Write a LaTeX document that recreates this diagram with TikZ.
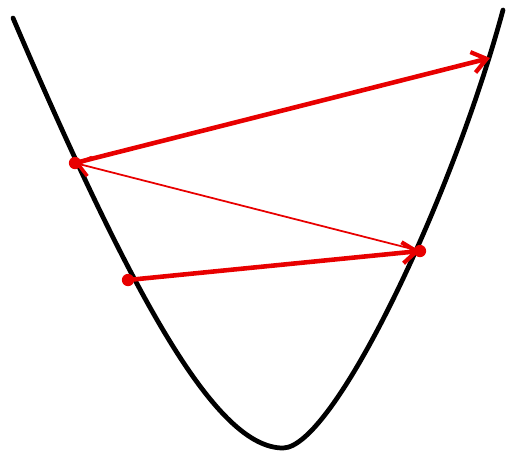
\documentclass[tikz,border=0pt]{standalone}
\usetikzlibrary{arrows.meta}
\definecolor{arrred}{RGB}{232,0,0}
\begin{document}
\begin{tikzpicture}[x=0.02cm,y=-0.02cm,
  curve/.style={line width=2.7pt,black,line cap=round},
  thickarr/.style={line width=2.6pt,arrred,-{Straight Barb[length=8pt,width=12pt,line width=2.4pt]}},
  thinarr/.style={line width=1pt,arrred,-{Straight Barb[length=7pt,width=11pt,line width=2pt]}},
  dot/.style={circle,fill=arrred,inner sep=0pt,minimum size=7pt}]
\useasboundingbox (0,0) rectangle (508,454);
\draw[curve] (13,18) .. controls (137,308) and (218,448) .. (283,448)
  .. controls (333,448) and (451,202) .. (503,10);
\coordinate (a) at (75,163);
\coordinate (b) at (128,280);
\coordinate (c) at (420,251);
\coordinate (d) at (490,58);
\draw[thinarr] (c) -- (a);
\draw[thickarr] (b) -- (c);
\draw[thickarr] (a) -- (d);
\node[dot] (pa) at (a) {};
\node[dot] (pb) at (b) {};
\node[dot] (pc) at (c) {};
\end{tikzpicture}
\end{document}
